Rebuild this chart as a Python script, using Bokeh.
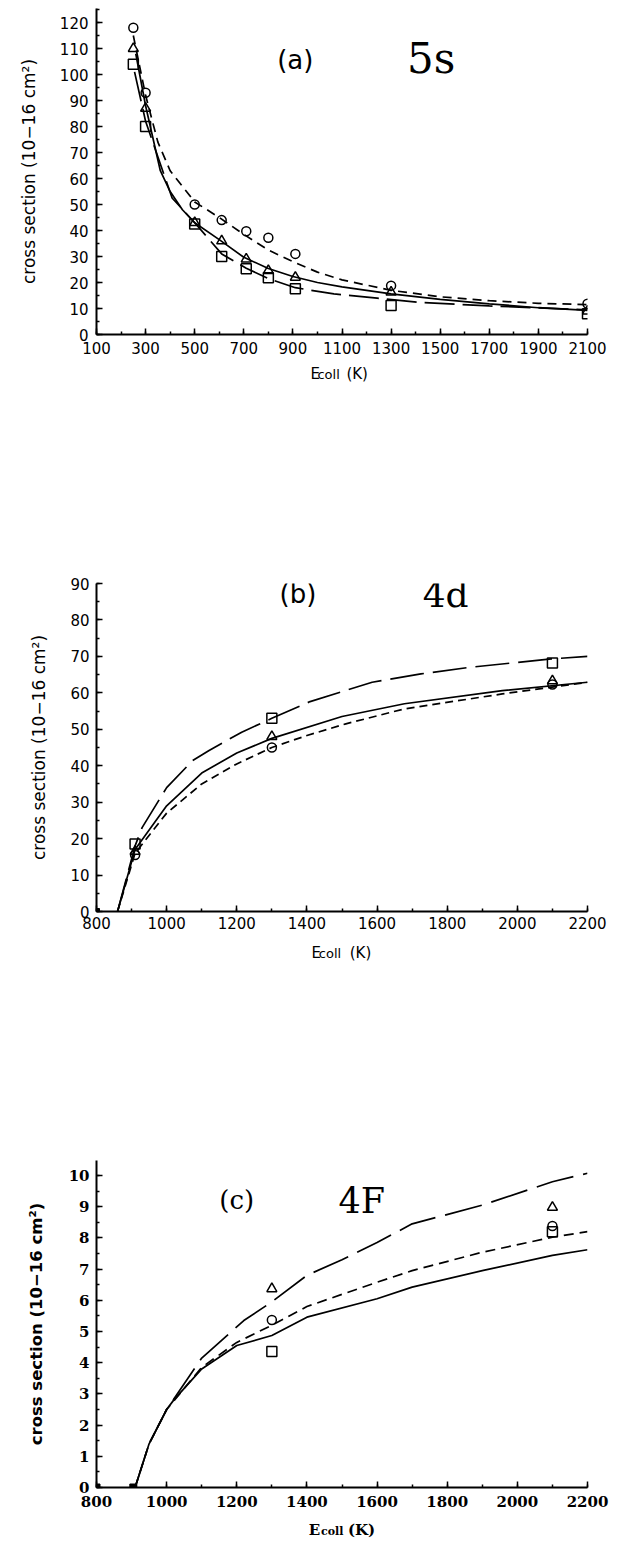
from bokeh.plotting import figure
from bokeh.layouts import column
from bokeh.models import Range1d, FixedTicker, Label
from bokeh.embed import file_html
from bokeh.resources import INLINE

# ---------------- data: panel (a) 5s ----------------
a_pts_x = [250, 300, 500, 610, 710, 800, 910, 1300, 2100]
a_circle = [118, 93, 50, 44, 39.7, 37.2, 31, 18.8, 11.8]
a_triangle = [110, 87, 43, 36, 29, 24.6, 22, 16.3, 9]
a_square = [104, 80, 42.5, 30, 25.3, 21.8, 17.6, 11.2, 8]

a_solid_x = [260, 300, 360, 400, 450, 500, 600, 700, 800, 900, 1000, 1100, 1300, 1500, 1700, 1900, 2100]
a_solid_y = [108, 88, 63, 55, 48, 43, 36.5, 29.7, 25.4, 22.3, 20, 18.3, 15.6, 13.5, 11.8, 10.3, 9.3]
a_dash_x = [250, 300, 350, 400, 500, 600, 700, 800, 900, 1000, 1100, 1300, 1500, 1700, 1900, 2100]
a_dash_y = [115, 92, 74, 63, 51, 45, 38.5, 32.5, 28, 24, 21, 17, 14.5, 13, 12, 11.5]
a_long_x = [255, 300, 408, 500, 610, 710, 800, 910, 1067, 1243, 1406, 1700, 2100]
a_long_y = [101, 82, 52.5, 43, 31, 25.5, 21.5, 18, 15.6, 14, 12.4, 11, 9.5]

a_xticks = [100, 300, 500, 700, 900, 1100, 1300, 1500, 1700, 1900, 2100]
a_yticks = [0, 10, 20, 30, 40, 50, 60, 70, 80, 90, 100, 110, 120]

# ---------------- data: panel (b) 4d ----------------
b_pts_x = [910, 1300, 2100]
b_square = [18.5, 53, 68.2]
b_triangle = [16.5, 48, 63.3]
b_circle = [15.5, 45, 62.3]
b_zero_x = [800]
b_zero_y = [0]

b_long_x = [860, 910, 930, 1000, 1074, 1121, 1214, 1300, 1409, 1586, 1725, 1864, 2097, 2200]
b_long_y = [0, 18, 23, 34, 41.4, 44.2, 49.2, 53, 57.6, 62.9, 65.2, 67, 69.3, 70]
b_solid_x = [860, 910, 1000, 1100, 1200, 1300, 1500, 1678, 1957, 2200]
b_solid_y = [0, 17, 29, 38, 43.5, 47.5, 53.5, 57, 60.6, 62.9]
b_dash_x = [860, 910, 1000, 1100, 1200, 1300, 1400, 1511, 1678, 1957, 2200]
b_dash_y = [0, 16, 27, 35, 40.5, 45, 48.3, 51.5, 55.6, 59.7, 62.9]

bc_xticks = [800, 1000, 1200, 1400, 1600, 1800, 2000, 2200]
b_yticks = [0, 10, 20, 30, 40, 50, 60, 70, 80, 90]

# ---------------- data: panel (c) 4F ----------------
c_pts_x = [1300, 2100]
c_triangle = [6.37, 8.98]
c_circle = [5.37, 8.38]
c_square = [4.36, 8.2]
c_zero_x = [800, 905]
c_zero_y = [0, 0]

c_solid_x = [910, 950, 1000, 1020, 1100, 1200, 1300, 1400, 1600, 1700, 1900, 2100, 2200]
c_solid_y = [0, 1.4, 2.5, 2.8, 3.8, 4.55, 4.87, 5.46, 6.05, 6.42, 6.95, 7.44, 7.62]
c_dash_x = [910, 950, 1000, 1100, 1200, 1300, 1400, 1600, 1700, 1900, 2100, 2200]
c_dash_y = [0, 1.4, 2.5, 3.85, 4.65, 5.2, 5.8, 6.58, 6.95, 7.54, 8.02, 8.2]
c_long_x = [910, 950, 1000, 1100, 1220, 1300, 1400, 1500, 1600, 1700, 1900, 2100, 2200]
c_long_y = [0, 1.4, 2.5, 4.15, 5.35, 5.95, 6.8, 7.3, 7.85, 8.45, 9.05, 9.8, 10.07]

c_yticks = [0, 1, 2, 3, 4, 5, 6, 7, 8, 9, 10]

YLABEL = "cross section (10\u221216 cm\u00b2)"
W = 618


def make_fig(height, xr, yr, left, top, bottom, xticks, xminor, yticks, yminor,
             tick_font, tick_bold, lab_font, lab_bold, lab_size, xstand, ystand, lab_stand):
    p = figure(width=W, height=height, x_range=Range1d(*xr), y_range=Range1d(*yr),
               output_backend="svg", toolbar_location=None,
               min_border_left=left, min_border_right=W - 587,
               min_border_top=top, min_border_bottom=bottom)
    p.grid.visible = False
    p.outline_line_color = None
    p.xaxis.ticker = FixedTicker(ticks=xticks, minor_ticks=xminor)
    p.yaxis.ticker = FixedTicker(ticks=yticks, minor_ticks=yminor)
    for ax in (p.xaxis[0], p.yaxis[0]):
        ax.axis_line_width = 2
        ax.axis_line_color = "black"
        ax.major_tick_in = 6
        ax.major_tick_out = 0
        ax.minor_tick_in = 3
        ax.minor_tick_out = 0
        ax.major_tick_line_width = 1.5
        ax.minor_tick_line_width = 1.5
        ax.major_tick_line_color = "black"
        ax.minor_tick_line_color = "black"
        ax.major_label_text_font = tick_font
        ax.major_label_text_font_size = "15px"
        ax.major_label_text_color = "black"
        ax.major_label_text_font_style = "bold" if tick_bold else "normal"
    p.xaxis.major_label_standoff = xstand
    p.yaxis.major_label_standoff = ystand
    p.yaxis.axis_label = YLABEL
    p.yaxis.axis_label_text_font = lab_font
    p.yaxis.axis_label_text_font_size = lab_size
    p.yaxis.axis_label_text_font_style = "bold" if lab_bold else "normal"
    p.yaxis.axis_label_text_color = "black"
    p.yaxis.axis_label_standoff = lab_stand
    return p


def label_strip(height, xr, left):
    s = figure(width=W, height=height, x_range=Range1d(*xr), y_range=Range1d(0, height),
               output_backend="svg", toolbar_location=None,
               x_axis_location=None, y_axis_location=None,
               min_border_left=left, min_border_right=W - 587,
               min_border_top=0, min_border_bottom=0)
    s.grid.visible = False
    s.outline_line_color = None
    return s


def add_lines(p, xs_solid, ys_solid, xs_dash, ys_dash, xs_long, ys_long, short_dash, long_dash):
    p.line(xs_solid, ys_solid, line_color="black", line_width=1.7)
    p.line(xs_dash, ys_dash, line_color="black", line_width=1.7, line_dash=short_dash)
    p.line(xs_long, ys_long, line_color="black", line_width=1.7, line_dash=long_dash)


def add_points(p, xs, circ, tri, sq):
    p.scatter(xs, circ, marker="circle", size=9, fill_color=None, line_color="black", line_width=1.5)
    p.scatter(xs, tri, marker="triangle", size=10, fill_color=None, line_color="black", line_width=1.5)
    p.scatter(xs, sq, marker="square", size=10, fill_color=None, line_color="black", line_width=1.5)


def text(p, x, y, t, font, size, bold=False):
    # y is the vertical centre of the text
    p.add_layout(Label(x=x, y=y, text=t, text_font=font, text_font_size=size,
                       text_font_style="bold" if bold else "normal",
                       text_color="black", text_baseline="middle", text_align="left"))


def xlabel(s, x0, xc, xk, y_big, y_small, font, bold, big="15px", small="12px"):
    text(s, x0, y_big, "E", font, big, bold)
    text(s, xc, y_small, "coll", font, small, bold)
    text(s, xk, y_big, "(K)", font, big, bold)


hundreds_a = list(range(100, 2101, 100))
hundreds_bc = list(range(800, 2201, 100))

# ---------------- panel (a): page y 0..364, frame 8..334 ----------------
pa = make_fig(364, (100, 2100), (0, 125.4), 96, 8, 30, a_xticks, hundreds_a,
              a_yticks, list(range(0, 126, 5)), "DejaVu Sans", False, "DejaVu Sans", False,
              "17px", 7, 8, 18)
add_lines(pa, a_solid_x, a_solid_y, a_dash_x, a_dash_y, a_long_x, a_long_y, "9 6", "30 8")
add_points(pa, a_pts_x, a_circle, a_triangle, a_square)
text(pa, 836, 105.4, "(a)", "DejaVu Sans", "26px")
text(pa, 1365, 106.0, "5s", "DejaVu Serif", "42px")

la = label_strip(176, (100, 2100), 96)          # page y 364..540
xlabel(la, 972, 1000, 1118, 167, 166, "DejaVu Sans", False, "15px", "13px")

# ---------------- panel (b): page y 540..941, frame 583..911 ----------------
pb = make_fig(401, (800, 2200), (0, 90), 85, 43, 30, bc_xticks, hundreds_bc,
              b_yticks, list(range(0, 91, 5)), "DejaVu Sans", False, "DejaVu Sans", False,
              "17px", 5, 7, 18)
add_lines(pb, b_solid_x, b_solid_y, b_dash_x, b_dash_y, b_long_x, b_long_y, "8 5", "34 9")
add_points(pb, b_pts_x, b_circle, b_triangle, b_square)
pb.scatter(b_zero_x, b_zero_y, marker="square", size=6, fill_color="black", line_color="black")
text(pb, 1322, 87.1, "(b)", "DejaVu Sans", "26px")
text(pb, 1730, 87.0, "4d", "DejaVu Serif", "36px")

lb = label_strip(119, (800, 2200), 85)          # page y 941..1060
xlabel(lb, 1413, 1434, 1522, 108, 107, "DejaVu Sans", False, "15px", "13px")

# ---------------- panel (c): page y 1060..1517, frame 1160..1487 ----------------
pc = make_fig(457, (800, 2200), (0, 10.48), 85, 100, 30, bc_xticks, hundreds_bc,
              c_yticks, [i * 0.5 for i in range(0, 21)], "DejaVu Serif", True, "DejaVu Sans", True,
              "16.5px", 8, 7, 20)
add_lines(pc, c_solid_x, c_solid_y, c_dash_x, c_dash_y, c_long_x, c_long_y, "10 6", "38 10")
add_points(pc, c_pts_x, c_circle, c_triangle, c_square)
pc.scatter(c_zero_x, c_zero_y, marker="square", size=7, fill_color="black", line_color="black")
text(pc, 1150, 9.23, "(c)", "DejaVu Serif", "26px")
text(pc, 1490, 9.17, "4F", "DejaVu Serif", "35px")

lc = label_strip(24, (800, 2200), 85)           # page y 1517..1541
xlabel(lc, 1405, 1440, 1517, 11.5, 10, "DejaVu Serif", True, "15px", "11px")

layout = column(pa, la, pb, lb, pc, lc)
open("out.html", "w").write(file_html(layout, INLINE))
